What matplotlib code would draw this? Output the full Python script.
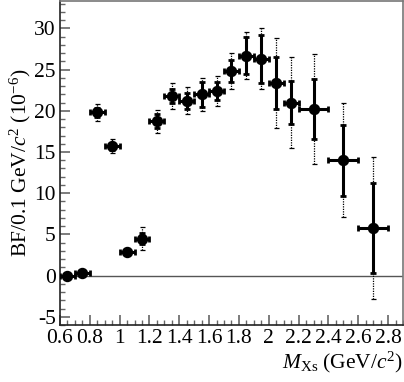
import matplotlib
matplotlib.use("Agg")
import matplotlib.pyplot as plt
from matplotlib.ticker import MultipleLocator, FuncFormatter

plt.rcParams['font.family'] = ['Liberation Serif', 'DejaVu Serif']
plt.rcParams['mathtext.fontset'] = 'custom'
plt.rcParams['mathtext.rm'] = 'Liberation Serif'
plt.rcParams['mathtext.it'] = 'Liberation Serif:italic'

# bin centres, half widths (GeV/c^2)
mass = [0.65, 0.75, 0.85, 0.95, 1.05, 1.15, 1.25, 1.35, 1.45, 1.55,
        1.65, 1.75, 1.85, 1.95, 2.05, 2.15, 2.30, 2.50, 2.70]
half_width = [0.05] * 16 + [0.10, 0.10, 0.10]
# branching fraction per 0.1 GeV/c^2 (10^-6)
bf = [-0.1, 0.3, 19.8, 15.7, 2.9, 4.5, 18.7, 21.8, 21.2, 22.0,
      22.4, 24.8, 26.7, 26.3, 23.4, 21.0, 20.2, 14.0, 5.8]
stat_err = [0.2, 0.2, 0.5, 0.4, 0.3, 0.7, 0.85, 0.85, 0.93, 1.5,
            1.1, 1.35, 2.25, 2.9, 3.15, 2.6, 3.6, 4.3, 5.45]
total_err = [0.3, 0.3, 1.0, 0.85, 0.4, 1.45, 1.35, 1.6, 1.65, 2.0,
             1.85, 2.2, 2.9, 3.7, 5.45, 5.55, 6.65, 6.9, 8.6]

fig = plt.figure(figsize=(4.04, 3.82), dpi=100)
ax = fig.add_axes([0.1485, 0.149, 0.849, 0.848])

ax.axhline(0, color='#555555', lw=1.0, zorder=1)

# total errors (dotted)
eb = ax.errorbar(mass, bf, yerr=total_err, fmt='none', ecolor='black',
                 elinewidth=0.9, capsize=1.8, capthick=0.9, zorder=2)
eb[2][0].set_linestyle((0, (1.0, 1.0)))

# statistical errors and bin widths (solid)
ax.errorbar(mass, bf, yerr=stat_err, xerr=half_width, fmt='o', color='black',
            markersize=7.2, elinewidth=2.2, capsize=2.2, capthick=2.0, zorder=3)

ax.set_xlim(0.6, 2.9)
ax.set_ylim(-6, 33.3)
ax.xaxis.set_major_locator(MultipleLocator(0.2))
ax.xaxis.set_minor_locator(MultipleLocator(0.05))
ax.yaxis.set_major_locator(MultipleLocator(5))
ax.yaxis.set_minor_locator(MultipleLocator(1))
ax.xaxis.set_major_formatter(FuncFormatter(lambda v, p: '%g' % round(v, 2)))
ax.yaxis.set_major_formatter(FuncFormatter(lambda v, p: '%g' % v))

ax.tick_params(which='both', direction='in', top=False, right=False,
               labelsize=15.5, color='#666666', pad=3)
ax.tick_params(which='major', length=7, width=1.2)
ax.tick_params(which='minor', length=3.5, width=1.0)

for side in ['top', 'right']:
    ax.spines[side].set_color('#777777')
ax.spines['left'].set_color('#222222')
ax.spines['bottom'].set_color('#222222')
for s in ax.spines.values():
    s.set_linewidth(1.2)

ax.set_ylabel(r'BF/0.1 GeV/$c^2$ (10$^{-6}$)', fontsize=15.5, labelpad=1)
ax.set_xlabel(r'$M_{\rm Xs}$ (GeV/$c^2$)', fontsize=15.5, loc='right', labelpad=1)

fig.savefig('out.png', dpi=100)
